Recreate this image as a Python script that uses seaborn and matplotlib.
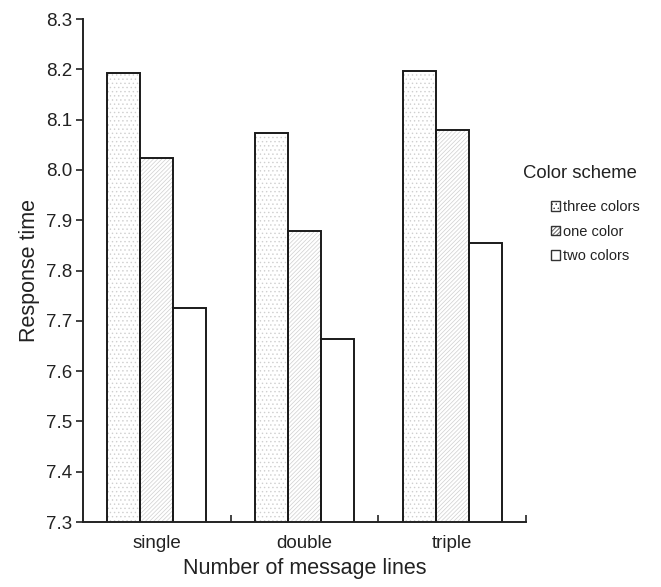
import pandas as pd
import matplotlib.pyplot as plt
import seaborn as sns
from matplotlib.patches import Patch, Rectangle

# data
lines = ["single", "double", "triple"]
schemes = ["three colors", "one color", "two colors"]
three_colors = [8.192, 8.073, 8.197]
one_color = [8.023, 7.878, 8.080]
two_colors = [7.725, 7.663, 7.855]

df = pd.DataFrame({
    "Number of message lines": lines * 3,
    "Color scheme": [s for s in schemes for _ in lines],
    "Response time": three_colors + one_color + two_colors,
})

sns.set_theme(style="white")
plt.rcParams["font.family"] = ["Liberation Sans", "DejaVu Sans"]
plt.rcParams["hatch.linewidth"] = 0.5

hatches = {"three colors": "....", "one color": "////////", "two colors": ""}

fig = plt.figure(figsize=(6.61, 5.87), dpi=100)
ax = fig.add_axes([0.1256, 0.1107, 0.6702, 0.8569])

sns.barplot(data=df, x="Number of message lines", y="Response time",
            hue="Color scheme", order=lines, hue_order=schemes,
            palette=["white"] * 3, width=0.67, edgecolor="#1a1a1a",
            linewidth=1.4, legend=False, ax=ax)

# hatch in light grey, keep dark outline on top
for cont, s in zip(ax.containers, schemes):
    for bar in cont:
        if hatches[s]:
            bar.set_hatch(hatches[s])
            bar.set_edgecolor("#cfcfcf")
            bar.set_linewidth(0)
            ax.add_patch(Rectangle(bar.get_xy(), bar.get_width(), bar.get_height(),
                                   facecolor="none", edgecolor="#1a1a1a", linewidth=1.4))

ax.set_ylim(7.3, 8.3)
ax.set_xlim(-0.5, 2.5)
ax.set_yticks([7.3 + 0.1 * i for i in range(11)])
ax.set_yticklabels([f"{7.3 + 0.1 * i:.1f}" for i in range(11)])
ax.set_xticks([0, 1, 2])
ax.set_xticklabels(lines)
ax.tick_params(axis="x", length=0, labelsize=13.5, pad=9, labelcolor="#222222")
ax.tick_params(axis="y", direction="out", length=5, width=1.2, labelsize=13.5,
               left=True, color="#222222", labelcolor="#222222", pad=3)
ax.set_xticks([0.5, 1.5, 2.5], minor=True)
ax.tick_params(axis="x", which="minor", direction="in", length=5, width=1.2,
               bottom=True, color="#222222")
sns.despine(ax=ax)
for sp in ["left", "bottom"]:
    ax.spines[sp].set_linewidth(1.4)
    ax.spines[sp].set_color("#222222")

ax.set_xlabel("Number of message lines", fontsize=15.5, labelpad=5, color="#222222")
ax.set_ylabel("Response time", fontsize=15.5, labelpad=4, color="#222222")

# legend: title as separate text, entries indented below it
fig.text(523 / 661, 1 - 173 / 587, "Color scheme", fontsize=13.3, color="#222222",
         ha="left", va="center")
handles = [Patch(facecolor="white", edgecolor="#333333", hatch=hatches[s], linewidth=1)
           for s in schemes]
leg = fig.legend(handles, schemes, loc="upper left",
                 bbox_to_anchor=(551 / 661, 1 - 200 / 587), frameon=False, fontsize=10.5,
                 handlelength=0.65, handleheight=0.65, borderpad=0, borderaxespad=0,
                 handletextpad=0.2, labelspacing=0.72)
for t in leg.get_texts():
    t.set_color("#222222")

fig.savefig("out.png", dpi=100)
